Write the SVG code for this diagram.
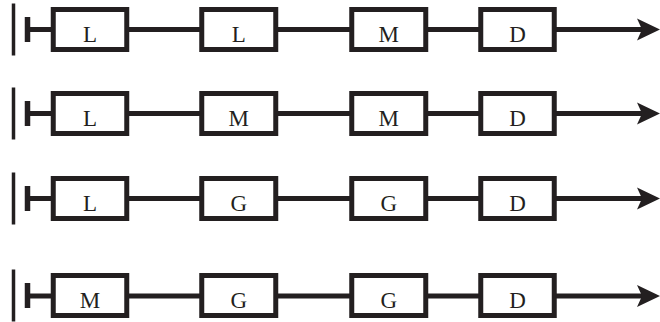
<svg xmlns="http://www.w3.org/2000/svg" width="660" height="322" viewBox="0 0 660 322">
<style>
.box{fill:#fff;stroke:#231f20;stroke-width:5}
.ln{stroke:#231f20;stroke-width:5;fill:none}
.bar{stroke:#231f20;stroke-width:3.5;fill:none}
.tick{stroke:#231f20;stroke-width:5.5;fill:none}
.head{fill:#231f20}
.lbl{font-family:"Liberation Serif","Times New Roman",serif;font-size:23px;fill:#231f20;text-anchor:middle}
</style>
<defs>
<g id="row-base">
<line class="bar" x1="13.5" y1="-26" x2="13.5" y2="26"/>
<line class="tick" x1="27.5" y1="-12.5" x2="27.5" y2="12.5"/>
</g>
<g id="row-conn">
<line class="ln" x1="27.5" y1="0" x2="53" y2="0"/>
<line class="ln" x1="127" y1="0" x2="201.5" y2="0"/>
<line class="ln" x1="276" y1="0" x2="351.5" y2="0"/>
<line class="ln" x1="426" y1="0" x2="480.5" y2="0"/>
<line class="ln" x1="554.5" y1="0" x2="643" y2="0"/>
<polygon class="head" points="660,0 637,-11 642,0 637,11"/>
</g>
</defs>
<g id="connectors">
<use href="#row-base" y="29.5"/><use href="#row-conn" y="29.5"/>
<use href="#row-base" y="113.5"/><use href="#row-conn" y="113.5"/>
<use href="#row-base" y="198.5"/><use href="#row-conn" y="198.5"/>
<use href="#row-base" y="295.5"/><use href="#row-conn" y="296"/>
</g>
<g id="r1n1"><rect class="box" x="53.25" y="9.5" width="73.5" height="40"/><text class="lbl" x="90" y="42">L</text></g>
<g id="r1n2"><rect class="box" x="201.75" y="9.5" width="74" height="40"/><text class="lbl" x="238.75" y="42">L</text></g>
<g id="r1n3"><rect class="box" x="351.75" y="9.5" width="74" height="40"/><text class="lbl" x="388.75" y="42">M</text></g>
<g id="r1n4"><rect class="box" x="480.75" y="9.5" width="73.5" height="40"/><text class="lbl" x="517.5" y="42">D</text></g>

<g id="r2n1"><rect class="box" x="53.25" y="93.5" width="73.5" height="40"/><text class="lbl" x="90" y="126">L</text></g>
<g id="r2n2"><rect class="box" x="201.75" y="93.5" width="74" height="40"/><text class="lbl" x="238.75" y="126">M</text></g>
<g id="r2n3"><rect class="box" x="351.75" y="93.5" width="74" height="40"/><text class="lbl" x="388.75" y="126">M</text></g>
<g id="r2n4"><rect class="box" x="480.75" y="93.5" width="73.5" height="40"/><text class="lbl" x="517.5" y="126">D</text></g>

<g id="r3n1"><rect class="box" x="53.25" y="178.5" width="73.5" height="40"/><text class="lbl" x="90" y="211">L</text></g>
<g id="r3n2"><rect class="box" x="201.75" y="178.5" width="74" height="40"/><text class="lbl" x="238.75" y="211">G</text></g>
<g id="r3n3"><rect class="box" x="351.75" y="178.5" width="74" height="40"/><text class="lbl" x="388.75" y="211">G</text></g>
<g id="r3n4"><rect class="box" x="480.75" y="178.5" width="73.5" height="40"/><text class="lbl" x="517.5" y="211">D</text></g>

<g id="r4n1"><rect class="box" x="53.25" y="275.5" width="73.5" height="40"/><text class="lbl" x="90" y="308">M</text></g>
<g id="r4n2"><rect class="box" x="201.75" y="275.5" width="74" height="40"/><text class="lbl" x="238.75" y="308">G</text></g>
<g id="r4n3"><rect class="box" x="351.75" y="275.5" width="74" height="40"/><text class="lbl" x="388.75" y="308">G</text></g>
<g id="r4n4"><rect class="box" x="480.75" y="275.5" width="73.5" height="40"/><text class="lbl" x="517.5" y="308">D</text></g>
</svg>
